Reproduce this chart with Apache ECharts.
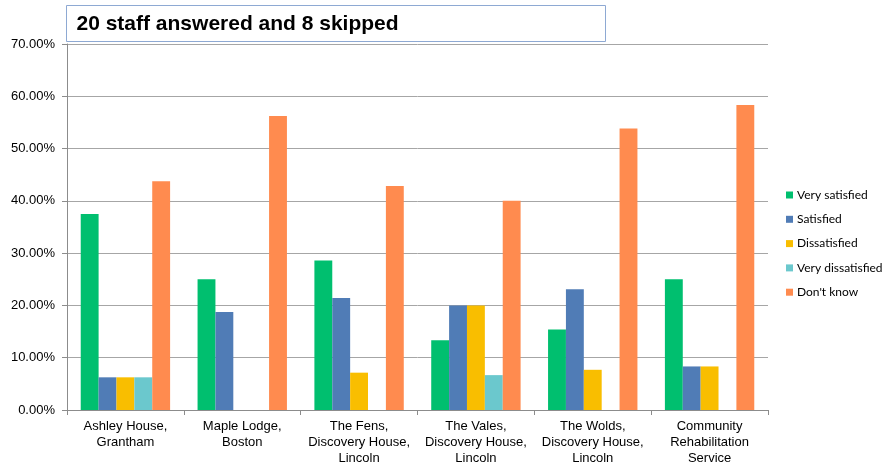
<!DOCTYPE html>
<html>
<head>
<meta charset="utf-8">
<script src="https://cdn.jsdelivr.net/npm/echarts@6/dist/echarts.min.js"></script>
<style>
  html, body { margin: 0; padding: 0; background: #fff; }
  #chart { width: 889px; height: 466px; }
</style>
</head>
<body>
<div id="chart"></div>
<script>
// Sites surveyed
const categories = [
  'Ashley House,\nGrantham',
  'Maple Lodge,\nBoston',
  'The Fens,\nDiscovery House,\nLincoln',
  'The Vales,\nDiscovery House,\nLincoln',
  'The Wolds,\nDiscovery House,\nLincoln',
  'Community\nRehabilitation\nService'
];

// Share of responses per site (%)
const verySatisfied    = [37.5, 25.0, 28.57, 13.33, 15.38, 25.0];
const satisfied        = [6.25, 18.75, 21.43, 20.0, 23.08, 8.33];
const dissatisfied     = [6.25, 0, 7.14, 20.0, 7.69, 8.33];
const veryDissatisfied = [6.25, 0, 0, 6.67, 0, 0];
const dontKnow         = [43.75, 56.25, 42.86, 40.0, 53.85, 58.33];

const seriesNames  = ['Very satisfied', 'Satisfied', 'Dissatisfied', 'Very dissatisfied', "Don't know"];
const seriesData   = [verySatisfied, satisfied, dissatisfied, veryDissatisfied, dontKnow];
const seriesColors = ['#00BF6F', '#507CB6', '#F9BE00', '#6BC8CD', '#FF8B4F'];

const chart = echarts.init(document.getElementById('chart'), null, { renderer: 'canvas' });

chart.setOption({
  animation: false,
  backgroundColor: '#ffffff',
  graphic: [{
    type: 'group',
    left: 66, top: 5,
    children: [
      { type: 'rect', shape: { x: 0, y: 0, width: 539, height: 36 },
        style: { fill: '#ffffff', stroke: '#8EA9D3', lineWidth: 1 } },
      { type: 'text', x: 10, y: 19,
        style: { text: '20 staff answered and 8 skipped', fill: '#000', font: 'bold 21px "Liberation Sans", Arial, sans-serif', verticalAlign: 'middle' } }
    ]
  }],
  legend: {
    orient: 'vertical',
    left: 786, top: 189,
    padding: 0,
    itemWidth: 7, itemHeight: 7,
    itemGap: 12.3,
    icon: 'rect',
    textStyle: { fontFamily: 'Lato, "Open Sans", sans-serif', fontSize: 12, color: '#000', padding: [0, 0, 0, -1] },
    data: seriesNames
  },
  grid: { left: 67, right: 121, top: 44, bottom: 56, containLabel: false },
  xAxis: {
    type: 'category',
    data: categories,
    axisLine: { lineStyle: { color: '#8C8C8C', width: 1 } },
    axisTick: { show: true, alignWithLabel: false, length: 5, lineStyle: { color: '#8C8C8C' } },
    axisLabel: { color: '#000', fontFamily: '"Liberation Sans", Arial, sans-serif', fontSize: 13, lineHeight: 16, margin: 8, interval: 0 }
  },
  yAxis: {
    type: 'value',
    min: 0, max: 70, interval: 10,
    axisLine: { show: true, lineStyle: { color: '#8C8C8C', width: 1 } },
    axisTick: { show: true, length: 5, inside: false, lineStyle: { color: '#8C8C8C' } },
    splitLine: { lineStyle: { color: '#A6A6A6', width: 1 } },
    axisLabel: {
      color: '#000', fontFamily: '"Liberation Sans", Arial, sans-serif', fontSize: 13, margin: 12,
      formatter: v => v.toFixed(2) + '%'
    }
  },
  series: seriesNames.map((name, i) => ({
    name,
    type: 'bar',
    data: seriesData[i],
    barGap: '0%',
    barCategoryGap: '23.5%',
    itemStyle: { color: seriesColors[i] }
  }))
});
</script>
</body>
</html>
